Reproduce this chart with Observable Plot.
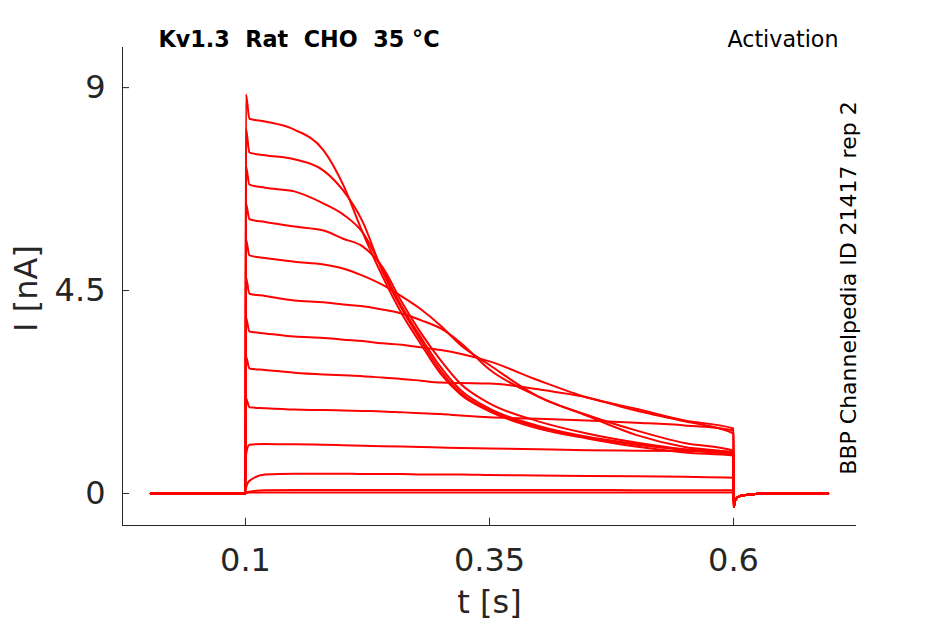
<!DOCTYPE html>
<html><head><meta charset="utf-8">
<script src="https://cdn.jsdelivr.net/npm/d3@7"></script>
<script src="https://cdn.jsdelivr.net/npm/@observablehq/plot@0.6"></script>
<style>body{margin:0;background:#fff} svg text{white-space:pre}</style>
</head><body><div id="chart"></div>
<script>
// time samples (s)
const preTimes  = [0.003, 0.1];
const stepTimes = [0.1005, 0.104, 0.12, 0.15, 0.18, 0.20, 0.22, 0.24, 0.26, 0.28, 0.30, 0.32, 0.35, 0.40, 0.45, 0.50, 0.55, 0.60];
const tailTimes = [0.6001, 0.602, 0.606, 0.615, 0.63, 0.697];
const preI  = [0, 0];
const tailI = [-0.30, -0.14, -0.06, -0.03, 0, 0];

// current during the step (nA), one array per sweep
const sweepA = [8.85, 8.31, 8.25, 8.07, 7.61, 6.85, 5.79, 4.83, 3.99, 3.30, 2.65, 2.20, 1.82, 1.44, 1.22, 1.04, 0.91, 0.84];
const sweepB = [8.09, 7.56, 7.50, 7.41, 7.16, 6.72, 6.03, 4.94, 4.10, 3.38, 2.72, 2.24, 1.84, 1.48, 1.24, 1.08, 0.97, 0.90];
const sweepC = [7.25, 6.85, 6.78, 6.70, 6.43, 6.19, 5.79, 4.99, 4.15, 3.45, 2.80, 2.30, 1.88, 1.50, 1.26, 1.10, 0.96, 0.86];
const sweepD = [6.43, 6.08, 6.02, 5.92, 5.83, 5.65, 5.48, 5.03, 4.25, 3.55, 2.95, 2.44, 2.00, 1.60, 1.33, 1.13, 0.98, 0.89];
const sweepE = [5.63, 5.28, 5.22, 5.14, 5.08, 4.99, 4.83, 4.63, 4.37, 4.08, 3.72, 3.30, 2.85, 2.15, 1.74, 1.40, 1.12, 0.95];
const sweepF = [4.79, 4.43, 4.38, 4.28, 4.24, 4.19, 4.15, 4.08, 3.99, 3.84, 3.66, 3.35, 2.75, 2.15, 1.72, 1.30, 1.03, 0.90];
const sweepG = [3.90, 3.59, 3.55, 3.48, 3.45, 3.41, 3.38, 3.33, 3.30, 3.24, 3.18, 3.10, 2.93, 2.51, 2.13, 1.88, 1.62, 1.44];
const sweepH = [3.04, 2.77, 2.74, 2.68, 2.64, 2.62, 2.60, 2.57, 2.54, 2.50, 2.46, 2.45, 2.44, 2.31, 2.13, 1.84, 1.60, 1.33];
const sweepI = [2.11, 1.91, 1.89, 1.86, 1.85, 1.84, 1.83, 1.82, 1.80, 1.78, 1.76, 1.73, 1.69, 1.66, 1.62, 1.57, 1.51, 1.40];
const sweepJ = [0.85, 1.08, 1.10, 1.09, 1.08, 1.07, 1.06, 1.05, 1.04, 1.03, 1.02, 1.01, 1.00, 0.98, 0.96, 0.95, 0.94, 0.93];
const sweepK = [0.12, 0.28, 0.42, 0.44, 0.44, 0.44, 0.43, 0.43, 0.43, 0.42, 0.42, 0.42, 0.41, 0.40, 0.39, 0.38, 0.37, 0.35];
const sweepL = [0.02, 0.04, 0.07, 0.08, 0.08, 0.08, 0.08, 0.08, 0.08, 0.08, 0.08, 0.08, 0.08, 0.08, 0.08, 0.07, 0.07, 0.07];
const sweepM = [0.01, 0.02, 0.02, 0.02, 0.02, 0.02, 0.02, 0.02, 0.02, 0.02, 0.02, 0.02, 0.02, 0.02, 0.02, 0.02, 0.02, 0.02];

const sweeps = {A: sweepA, B: sweepB, C: sweepC, D: sweepD, E: sweepE, F: sweepF, G: sweepG,
                H: sweepH, I: sweepI, J: sweepJ, K: sweepK, L: sweepL, M: sweepM};

const xTicks = [0.1, 0.35, 0.6];
const yTicks = [0, 4.5, 9];
const xDomain = [-0.026, 0.726];
const yDomain = [-0.71, 9.89];

const times = [...preTimes, ...stepTimes, ...tailTimes];
const rows = [];
for (const [name, vals] of Object.entries(sweeps)) {
  const I = [...preI, ...vals, ...tailI];
  times.forEach((t, i) => rows.push({trace: name, t, I: I[i]}));
}

const axisColor = "#262626";
const plot = Plot.plot({
  width: 945, height: 624,
  marginLeft: 122, marginRight: 89, marginTop: 47, marginBottom: 99,
  style: {fontFamily: "DejaVu Sans", background: "#fff", color: axisColor, overflow: "visible"},
  x: {domain: xDomain},
  y: {domain: yDomain},
  marks: [
    Plot.line(rows, {x: "t", y: "I", z: "trace", stroke: "#ff0000", strokeWidth: 2, curve: "monotone-x"}),
    Plot.ruleX([xDomain[0]], {stroke: axisColor, strokeWidth: 1}),
    Plot.ruleY([yDomain[0]], {stroke: axisColor, strokeWidth: 1}),
    Plot.ruleX(xTicks, {x: d => d, y1: yDomain[0], y2: yDomain[0] + 0.16, stroke: axisColor}),
    Plot.ruleY(yTicks, {y: d => d, x1: xDomain[0], x2: xDomain[0] + 0.0072, stroke: axisColor}),
    Plot.axisX(xTicks, {tickSize: 0, tickPadding: 23, fontSize: 32, label: null, tickFormat: d => String(d), fill: axisColor}),
    Plot.axisY(yTicks, {tickSize: 0, tickPadding: 17, fontSize: 32, label: null, tickFormat: d => String(d), fill: axisColor}),
    Plot.text(["t [s]"], {text: d => d, frameAnchor: "bottom", lineAnchor: "bottom", dy: 87, fontSize: 32, fill: axisColor}),
    Plot.text(["I [nA]"], {text: d => d, frameAnchor: "left", textAnchor: "middle", rotate: -90, lineAnchor: "bottom", dx: -86, dy: 2, fontSize: 32, fill: axisColor}),
    Plot.text(["Kv1.3  Rat  CHO  35 °C"], {text: d => d, frameAnchor: "top-left", textAnchor: "start", lineAnchor: "bottom", dx: 36, dy: -1, fontSize: 22.3, fontWeight: "bold", fill: "#000"}),
    Plot.text(["Activation"], {text: d => d, frameAnchor: "top-right", textAnchor: "end", lineAnchor: "bottom", dx: -18, dy: -1, fontSize: 22.2, fill: "#000"}),
    Plot.text(["BBP Channelpedia ID 21417 rep 2"], {text: d => d, frameAnchor: "right", textAnchor: "middle", rotate: -90, lineAnchor: "bottom", dx: -1, dy: 1.5, fontSize: 22, fill: "#000"})
  ]
});
document.getElementById("chart").appendChild(plot);
</script>
</body></html>
